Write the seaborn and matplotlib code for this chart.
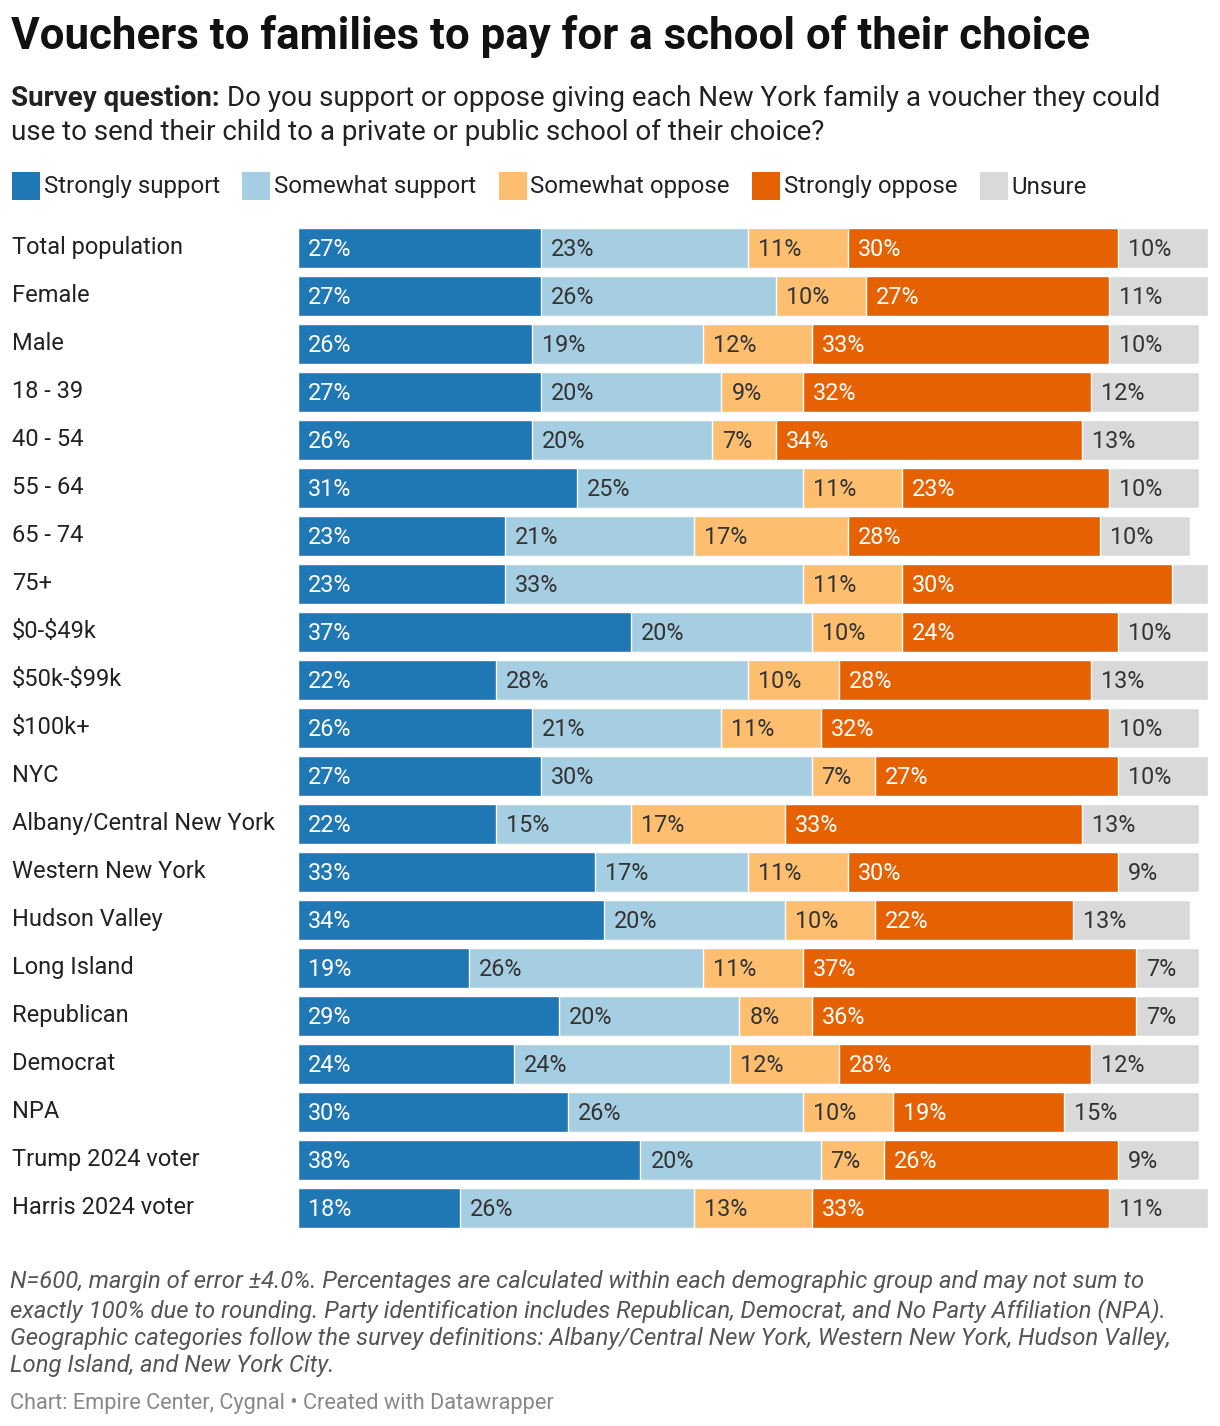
import numpy as np
import pandas as pd
import seaborn as sns
import matplotlib.pyplot as plt
import matplotlib.transforms as mtransforms
from matplotlib.patches import Rectangle

categories = ["Total population", "Female", "Male", "18 - 39", "40 - 54", "55 - 64",
              "65 - 74", "75+", "$0-$49k", "$50k-$99k", "$100k+", "NYC",
              "Albany/Central New York", "Western New York", "Hudson Valley",
              "Long Island", "Republican", "Democrat", "NPA", "Trump 2024 voter",
              "Harris 2024 voter"]
series_names = ["Strongly support", "Somewhat support", "Somewhat oppose",
                "Strongly oppose", "Unsure"]
strongly_support = [27, 27, 26, 27, 26, 31, 23, 23, 37, 22, 26, 27, 22, 33, 34, 19, 29, 24, 30, 38, 18]
somewhat_support = [23, 26, 19, 20, 20, 25, 21, 33, 20, 28, 21, 30, 15, 17, 20, 26, 20, 24, 26, 20, 26]
somewhat_oppose = [11, 10, 12, 9, 7, 11, 17, 11, 10, 10, 11, 7, 17, 11, 10, 11, 8, 12, 10, 7, 13]
strongly_oppose = [30, 27, 33, 32, 34, 23, 28, 30, 24, 28, 32, 27, 33, 30, 22, 37, 36, 28, 19, 26, 33]
unsure = [10, 11, 10, 12, 13, 10, 10, 4, 10, 13, 10, 10, 13, 9, 13, 7, 7, 12, 15, 9, 11]

colors = ["#1f77b4", "#a6cee3", "#fdbf6f", "#e66101", "#d9d9d9"]
text_colors = ["white", "#333333", "#333333", "white", "#333333"]

sns.set_theme(style="white")
plt.rcParams['font.family'] = ['Roboto', 'DejaVu Sans']

W, H = 1220, 1426
fig = plt.figure(figsize=(W / 100, H / 100), dpi=100)

def fx(px):
    return px / W

def fy(py):
    return 1 - py / H

# axes: x 298..1208 px, y 224..1232 px
ax = fig.add_axes([fx(298), fy(1232), fx(1208) - fx(298), (1232 - 224) / H])

data = pd.DataFrame({
    "category": categories,
    series_names[0]: strongly_support,
    series_names[1]: somewhat_support,
    series_names[2]: somewhat_oppose,
    series_names[3]: strongly_oppose,
    series_names[4]: unsure,
})
vals = data[series_names].to_numpy(dtype=float)
cum = np.cumsum(vals, axis=1)
starts = cum - vals

for j in range(len(series_names) - 1, -1, -1):
    df = pd.DataFrame({"category": categories, "value": cum[:, j]})
    sns.barplot(data=df, y="category", x="value", orient="h", color=colors[j],
                saturation=1, width=40 / 48, ax=ax, order=categories)

ax.set_xlim(0, 101)
ax.set_ylim(len(categories) - 0.5, -0.5)
for s in ax.spines.values():
    s.set_visible(False)
ax.set_xticks([])
ax.set_yticks([])
ax.set_xlabel("")
ax.set_ylabel("")
ax.grid(False)

px_per_unit = 910 / 101
for i in range(len(categories)):
    for j in range(len(series_names)):
        v = vals[i, j]
        if v >= 5:
            ax.text(starts[i, j] + 10 / px_per_unit, i + 0.04, f"{int(v)}%",
                    va="center", ha="left", fontsize=16.8, color=text_colors[j])

trans = mtransforms.blended_transform_factory(fig.transFigure, ax.transData)
for i, c in enumerate(categories):
    ax.text(fx(12), i - 0.01, c, transform=trans, va="center", ha="left",
            fontsize=17, color="#222222", parse_math=False)

# Title
fig.text(fx(11), fy(37), "Vouchers to families to pay for a school of their choice",
         fontsize=31.6, fontweight="bold", va="center", ha="left", color="#111111")

# Subtitle
t1 = fig.text(fx(11), fy(98), "Survey question:", fontsize=20, fontweight="bold",
              va="center", ha="left", color="#222222")
fig.canvas.draw()
r = fig.canvas.get_renderer()
bb = t1.get_window_extent(r)
fig.text(bb.x1 / W + fx(7), fy(98),
         "Do you support or oppose giving each New York family a voucher they could",
         fontsize=20, va="center", ha="left", color="#222222")
fig.text(fx(11), fy(132), "use to send their child to a private or public school of their choice?",
         fontsize=20, va="center", ha="left", color="#222222")

# Legend
x = 12
for name, col in zip(series_names, colors):
    fig.patches.append(Rectangle((fx(x), fy(200)), 28 / W, 28 / H, transform=fig.transFigure,
                                 facecolor=col, edgecolor="none"))
    t = fig.text(fx(x + 32), fy(187), name, fontsize=17.3, va="center", ha="left",
                 color="#222222")
    ext = t.get_window_extent(r)
    x = ext.x1 + 22

# Notes
notes = ("N=600, margin of error \u00b14.0%. Percentages are calculated within each demographic group and may not sum to\n"
         "exactly 100% due to rounding. Party identification includes Republican, Democrat, and No Party Affiliation (NPA).\n"
         "Geographic categories follow the survey definitions: Albany/Central New York, Western New York, Hudson Valley,\n"
         "Long Island, and New York City.")
fig.text(fx(10), fy(1270), notes, fontsize=17.2, style="italic", va="top", ha="left",
         color="#555555", linespacing=1.24)
fig.text(fx(10), fy(1403), "Chart: Empire Center, Cygnal \u2022 Created with Datawrapper",
         fontsize=15.7, va="center", ha="left", color="#888888")

fig.savefig("out.png", dpi=100, facecolor="white")
